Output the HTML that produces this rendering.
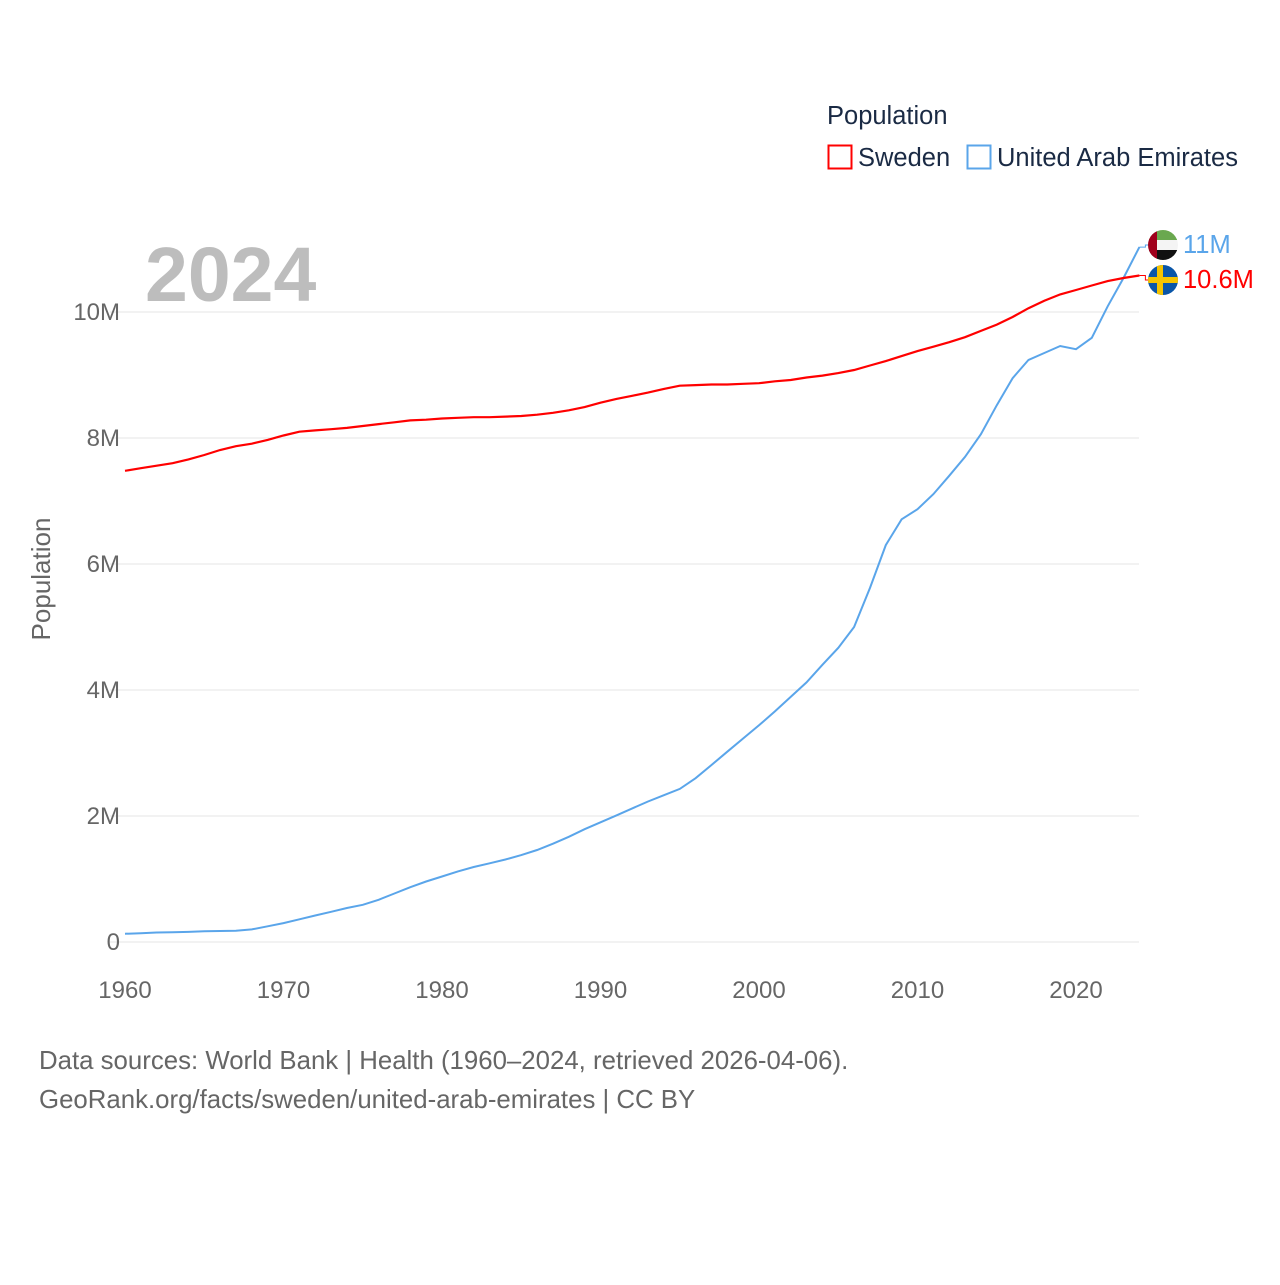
<!DOCTYPE html>
<html><head><meta charset="utf-8"><style>
body{margin:0;background:#fff;font-family:"Liberation Sans",sans-serif;}
svg text{font-family:"Liberation Sans",sans-serif;}
</style></head><body>
<svg width="1280" height="1280" xmlns="http://www.w3.org/2000/svg">
<text x="827" y="124" font-size="25.5" fill="#1a2a44">Population</text>
<g><rect x="828.5" y="145.5" width="23" height="23" fill="none" stroke="#f00" stroke-width="2"/><text x="858" y="166" font-size="25.5" fill="#1a2a44">Sweden</text></g>
<g><rect x="967.5" y="145.5" width="23" height="23" fill="none" stroke="#5aa5ea" stroke-width="2"/><text x="997" y="166" font-size="25.5" fill="#1a2a44">United Arab Emirates</text></g>
<text x="145" y="301" font-size="77" font-weight="bold" fill="#bdbdbd">2024</text>
<g id="grid"></g><g id="ticks"></g>
<text transform="translate(50,579) rotate(-90)" text-anchor="middle" font-size="26" fill="#666">Population</text>
<g id="series"></g><g id="ends"></g>
<text x="39" y="1069" font-size="25.8" fill="#666">Data sources: World Bank | Health (1960–2024, retrieved 2026-04-06).</text>
<text x="39" y="1108" font-size="25.8" fill="#666">GeoRank.org/facts/sweden/united-arab-emirates | CC BY</text>
</svg>
<script>
const years=[];for(let y=1960;y<=2024;y++)years.push(y);
const sweden=[7.48,7.52,7.56,7.60,7.66,7.73,7.81,7.87,7.91,7.97,8.04,8.10,8.12,8.14,8.16,8.19,8.22,8.25,8.28,8.29,8.31,8.32,8.33,8.33,8.34,8.35,8.37,8.40,8.44,8.49,8.56,8.62,8.67,8.72,8.78,8.83,8.84,8.85,8.85,8.86,8.87,8.90,8.92,8.96,8.99,9.03,9.08,9.15,9.22,9.30,9.38,9.45,9.52,9.60,9.70,9.80,9.92,10.06,10.18,10.28,10.35,10.42,10.49,10.54,10.58];
const uae=[0.13,0.14,0.15,0.155,0.16,0.17,0.175,0.18,0.2,0.25,0.30,0.36,0.42,0.48,0.54,0.59,0.67,0.77,0.87,0.96,1.04,1.12,1.19,1.25,1.31,1.38,1.46,1.56,1.67,1.79,1.90,2.01,2.12,2.23,2.33,2.43,2.6,2.81,3.02,3.23,3.44,3.66,3.89,4.12,4.40,4.67,5.0,5.62,6.3,6.71,6.87,7.11,7.4,7.7,8.06,8.52,8.95,9.24,9.35,9.46,9.41,9.59,10.09,10.54,11.03];
const yTicks=[0,2,4,6,8,10];
const yTickLabels=["0","2M","4M","6M","8M","10M"];
const xTicks=[1960,1970,1980,1990,2000,2010,2020];
const endLabels=["11M","10.6M"];
const NS="http://www.w3.org/2000/svg";
const X=y=>125+(y-1960)*(1076-125)/60;
const Y=v=>942-v*63;
function mk(t,a,p){const e=document.createElementNS(NS,t);for(const k in a)e.setAttribute(k,a[k]);p.appendChild(e);return e;}
const grid=document.getElementById('grid'),ticks=document.getElementById('ticks');
yTicks.forEach((v,i)=>{
 const l=mk('line',{x1:110,x2:1139,y1:Y(v),y2:Y(v),stroke:'#e6e6e6','stroke-width':1},grid);
 
 
 const t=mk('text',{x:120,y:Y(v)+8,'text-anchor':'end','font-size':24,fill:'#666'},ticks);
 t.textContent=yTickLabels[i];
 
 
});
xTicks.forEach(y=>{
 const t=mk('text',{x:X(y),y:998,'text-anchor':'middle','font-size':24,fill:'#666'},ticks);
 t.textContent=y;
 
 
});
const ser=document.getElementById('series');
function line(d,c,name){
 const p=mk('path',{d:d.map((v,i)=>(i?'L':'M')+X(years[i]).toFixed(1)+','+Y(v).toFixed(1)).join(''),fill:'none',stroke:c,'stroke-width':name=='line-sweden'?2.2:2},ser);
 
 
}
line(uae,'#5aa5ea','line-uae');
line(sweden,'#f00','line-sweden');
const ends=document.getElementById('ends');
const xe=X(2024);
mk('path',{d:`M${xe},${Y(uae[64])}L${xe+6},${Y(uae[64])}L${xe+6},245L1148,245`,fill:'none',stroke:'#5aa5ea','stroke-width':1},ends);
mk('path',{d:`M${xe},${Y(sweden[64])}L${xe+6},${Y(sweden[64])}L${xe+6},280L1148,280`,fill:'none',stroke:'#f00','stroke-width':1},ends);
const defs=mk('defs',{},ends);
const c1=mk('clipPath',{id:'cu'},defs);mk('circle',{cx:1163,cy:245,r:15},c1);
const c2=mk('clipPath',{id:'cs'},defs);mk('circle',{cx:1163,cy:280,r:15},c2);
const fu=mk('g',{'clip-path':'url(#cu)'},ends);


mk('rect',{x:1148,y:230,width:30,height:10,fill:'#6aa84f'},fu);
mk('rect',{x:1148,y:240,width:30,height:10,fill:'#f4f4f4'},fu);
mk('rect',{x:1148,y:250,width:30,height:10,fill:'#111'},fu);
mk('rect',{x:1148,y:230,width:9,height:30,fill:'#a0001c'},fu);
const fs=mk('g',{'clip-path':'url(#cs)'},ends);


mk('rect',{x:1148,y:265,width:30,height:30,fill:'#0a56a8'},fs);
mk('rect',{x:1148,y:277,width:30,height:6,fill:'#f5c400'},fs);
mk('rect',{x:1157,y:265,width:6,height:30,fill:'#f5c400'},fs);
const t1=mk('text',{x:1183,y:253,'font-size':25.5,fill:'#5aa5ea'},ends);t1.textContent=endLabels[0];


const t2=mk('text',{x:1183,y:288,'font-size':25.5,fill:'#f00'},ends);t2.textContent=endLabels[1];


</script>
</body></html>
